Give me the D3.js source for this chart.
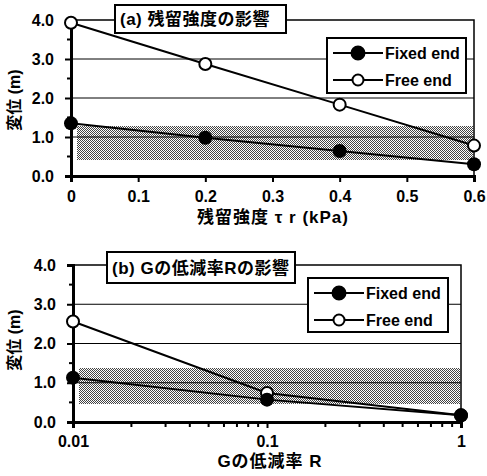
<!DOCTYPE html>
<html>
<head>
<meta charset="utf-8">
<script src="https://cdn.jsdelivr.net/npm/d3@7"></script>
<style>
  body { margin: 0; background: #fff; }
  text { font-family: "Liberation Sans", Arial, "Noto Sans CJK JP", sans-serif; font-weight: bold; fill: #000; }
</style>
</head>
<body>
<script>
let w = 487;
let h = 476;

// panel (a): residual strength
var tauR = [0, 0.2, 0.4, 0.6];
var fixedA = [1.35, 0.98, 0.64, 0.30];
var freeA = [3.93, 2.87, 1.83, 0.78];
var bandA = [0.4, 1.28];
var xTicksA = [0, 0.1, 0.2, 0.3, 0.4, 0.5, 0.6];
var xLabelsA = ["0", "0.1", "0.2", "0.3", "0.4", "0.5", "0.6"];

// panel (b): reduction ratio R of G
var ratioR = [0.01, 0.1, 1];
var fixedB = [1.13, 0.57, 0.17];
var freeB = [2.56, 0.74, 0.17];
var bandB = [0.45, 1.37];
var xTicksB = [0.01, 0.1, 1];
var xLabelsB = ["0.01", "0.1", "1"];

var yTicks = [0, 1, 2, 3, 4];
var yLabels = ["0.0", "1.0", "2.0", "3.0", "4.0"];
var yMinor = [0.5, 1.5, 2.5, 3.5];
var seriesNames = ["Fixed end", "Free end"];

var svg = d3.select("body").append("svg")
    .attr("width", w)
    .attr("height", h);

// stipple fill for the shaded band
var pat = svg.append("defs").append("pattern")
    .attr("id", "stip")
    .attr("width", 2).attr("height", 2)
    .attr("patternUnits", "userSpaceOnUse");
pat.append("rect").attr("width", 2).attr("height", 2).attr("fill", "#fff");
pat.append("rect").attr("x", 0).attr("y", 0).attr("width", 1).attr("height", 1).attr("fill", "#444")
    .attr("shape-rendering", "crispEdges");
pat.append("rect").attr("x", 1).attr("y", 1).attr("width", 1).attr("height", 1).attr("fill", "#444")
    .attr("shape-rendering", "crispEdges");

var drawPanel = (p) => {
    "use strict";
    var g = svg.append("g");
    var x = p.x, y = p.y;
    var x0 = x.range()[0], x1 = x.range()[1];
    var y0 = y.range()[0], y1 = y.range()[1];

    // band
    var bTop = Math.round(y(p.band[1])), bBot = Math.round(y(p.band[0]));
    g.append("rect")
        .attr("x", x0 + 6)
        .attr("y", bTop)
        .attr("width", x1 - x0 - 7)
        .attr("height", bBot - bTop)
        .attr("shape-rendering", "crispEdges")
        .attr("fill", "url(#stip)");

    // grid lines
    g.selectAll("line.grid").data([1, 2, 3]).enter().append("line")
        .attr("class", "grid")
        .attr("x1", x0).attr("x2", x1)
        .attr("y1", d => y(d)).attr("y2", d => y(d))
        .attr("stroke", "#000").attr("stroke-width", 1);

    // plot box (top + right)
    g.append("path")
        .attr("d", `M${x0},${y1}H${x1}V${y0}`)
        .attr("fill", "none").attr("stroke", "#000").attr("stroke-width", 1.5);

    // x axis
    var xa = g.append("g")
        .attr("transform", `translate(0,${y0})`)
        .call(p.xAxis);
    xa.select(".domain").attr("stroke-width", 3);
    xa.selectAll(".tick line").attr("stroke-width", 2);
    xa.selectAll(".tick text").style("font-size", "16px");

    // y axis
    var ya = g.append("g")
        .attr("transform", `translate(${x0},0)`)
        .call(d3.axisLeft(y).tickValues(yTicks).tickSize(6).tickPadding(11)
            .tickFormat((d, i) => yLabels[i]));
    ya.select(".domain").attr("stroke-width", 3);
    ya.selectAll(".tick line").attr("stroke-width", 2);
    ya.selectAll(".tick text").style("font-size", "16px");
    g.selectAll("line.ym").data(yMinor).enter().append("line")
        .attr("x1", x0 - 4).attr("x2", x0)
        .attr("y1", d => y(d)).attr("y2", d => y(d))
        .attr("stroke", "#000").attr("stroke-width", 2);

    // series lines
    var line = d3.line().x((d, i) => x(p.xs[i])).y(d => y(d));
    [p.fixed, p.free].forEach(s => {
        g.append("path").datum(s)
            .attr("d", line)
            .attr("fill", "none").attr("stroke", "#000").attr("stroke-width", 2);
    });
    g.selectAll("circle.free").data(p.free).enter().append("circle")
        .attr("cx", (d, i) => x(p.xs[i])).attr("cy", d => y(d)).attr("r", 6)
        .attr("fill", "#fff").attr("stroke", "#000").attr("stroke-width", 2);
    g.selectAll("circle.fixed").data(p.fixed).enter().append("circle")
        .attr("cx", (d, i) => x(p.xs[i])).attr("cy", d => y(d)).attr("r", 7)
        .attr("fill", "#000");

    // axis titles
    g.append("text")
        .attr("transform", `translate(20,${p.yTitleY}) rotate(-90)`)
        .attr("text-anchor", "middle")
        .style("font-size", "16px")
        .text("変位 (m)");
    g.append("text")
        .attr("x", p.xTitleX).attr("y", p.xTitleY)
        .attr("text-anchor", "middle")
        .style("font-size", "17px")
        .style("letter-spacing", "1px")
        .text(p.xTitle);

    // panel title box
    var tb = p.titleBox;
    g.append("rect")
        .attr("x", tb[0]).attr("y", tb[1]).attr("width", tb[2]).attr("height", tb[3])
        .attr("fill", "#fff").attr("stroke", "#000").attr("stroke-width", 2);
    g.append("text")
        .attr("x", tb[0] + 5).attr("y", tb[1] + tb[3] / 2 + 6)
        .style("font-size", "17px")
        .style("letter-spacing", "0.5px")
        .text(p.title);

    // legend
    var lb = p.legBox;
    g.append("rect")
        .attr("x", lb[0]).attr("y", lb[1]).attr("width", lb[2]).attr("height", lb[3])
        .attr("fill", "#fff").attr("stroke", "#000").attr("stroke-width", 2);
    seriesNames.forEach((name, i) => {
        var ly = lb[1] + 15 + i * 27;
        g.append("line")
            .attr("x1", lb[0] + 6).attr("x2", lb[0] + 56)
            .attr("y1", ly).attr("y2", ly)
            .attr("stroke", "#000").attr("stroke-width", 2);
        g.append("circle")
            .attr("cx", lb[0] + 31).attr("cy", ly).attr("r", i === 0 ? 6.5 : 5.5)
            .attr("fill", i === 0 ? "#000" : "#fff")
            .attr("stroke", "#000").attr("stroke-width", 2);
        g.append("text")
            .attr("x", lb[0] + 58).attr("y", ly + 6)
            .style("font-size", "16px")
            .text(name);
    });
};

var xA = d3.scaleLinear().domain([0, 0.6]).range([71, 474]);
var yA = d3.scaleLinear().domain([0, 4]).range([176, 20]);
drawPanel({
    x: xA, y: yA, xs: tauR, fixed: fixedA, free: freeA, band: bandA,
    xAxis: d3.axisBottom(xA).tickValues(xTicksA).tickSize(6).tickPadding(9)
        .tickFormat((d, i) => xLabelsA[i]),
    xTitle: "残留強度  τ r (kPa)", xTitleX: 273, xTitleY: 223,
    yTitleY: 100,
    title: "(a)  残留強度の影響", titleBox: [115, 5, 171, 28],
    legBox: [327, 38, 139, 55]
});

var xB = d3.scaleLog().domain([0.01, 1]).range([73, 461]);
var yB = d3.scaleLinear().domain([0, 4]).range([422, 265]);
var minorB = d3.range(2, 10).map(k => k * 0.01).concat(d3.range(2, 10).map(k => k * 0.1));
drawPanel({
    x: xB, y: yB, xs: ratioR, fixed: fixedB, free: freeB, band: bandB,
    xAxis: (sel) => {
        sel.call(d3.axisBottom(xB).tickValues(xTicksB).tickSize(6).tickPadding(8)
            .tickFormat((d, i) => xLabelsB[i]));
        sel.selectAll("line.minor").data(minorB).enter().append("line")
            .attr("class", "minor")
            .attr("x1", d => xB(d)).attr("x2", d => xB(d))
            .attr("y1", 0).attr("y2", 5)
            .attr("stroke", "#000").attr("stroke-width", 2);
    },
    xTitle: "Gの低減率 R", xTitleX: 270, xTitleY: 467,
    yTitleY: 340,
    title: "(b) Gの低減率Rの影響", titleBox: [107, 252, 188, 31],
    legBox: [308, 278, 140, 54]
});
</script>
</body>
</html>
